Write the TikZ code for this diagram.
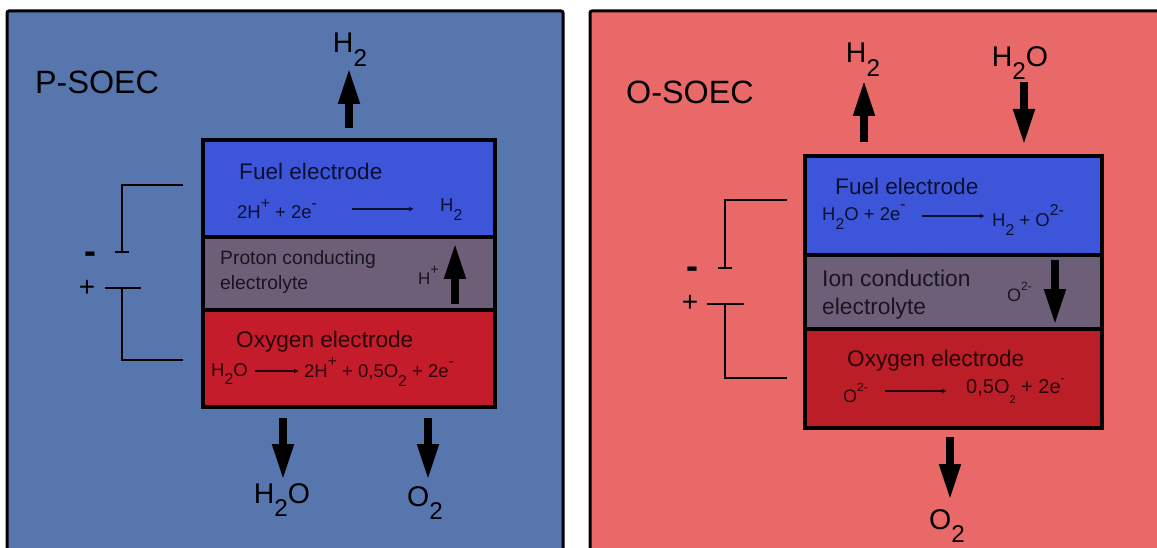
\documentclass[tikz,border=0pt]{standalone}
\usepackage{fontspec}
\setmainfont{Liberation Sans}
\usepackage{xcolor}
\definecolor{pblue}{HTML}{5776AD}
\definecolor{osalmon}{HTML}{E86967}
\definecolor{fuelblue}{HTML}{3D55D8}
\definecolor{greymauve}{HTML}{6E5F78}
\definecolor{pred}{HTML}{C41C2B}
\definecolor{ored}{HTML}{BC1E28}
\definecolor{inkblue}{HTML}{0A1030}
\definecolor{inkred}{HTML}{2A0408}
\definecolor{inkgrey}{HTML}{181520}
\usetikzlibrary{arrows.meta, positioning}
\newcommand{\fsz}[1]{\fontsize{#1}{#1}\selectfont}
\newcommand{\lo}[1]{\raisebox{-0.48em}{\fontsize{0.85em}{1em}\selectfont #1}}
\newcommand{\hi}[1]{\raisebox{0.58em}{\fontsize{0.85em}{1em}\selectfont #1}}

\begin{document}
\begin{tikzpicture}[
    x=1pt, y=-1pt,
    panelbox/.style={draw=black, line width=3pt, rounded corners=2pt},
    celllayer/.style={draw=black, line width=4pt, minimum width=292pt, inner sep=0pt},
    flowarrow/.style={line width=7.5pt, -{Triangle[width=20pt,length=36pt]}},
    reactarrow/.style={line width=1.2pt, -{Latex[length=5pt,width=5pt]}},
    wireline/.style={line width=2pt},
    paneltitle/.style={inner sep=0pt, anchor=west, font=\fsz{32.3pt}},
    gaslabel/.style={inner sep=0pt, font=\fsz{28.5pt}},
    cellname/.style={inner sep=0pt, anchor=west, font=\fsz{22.6pt}},
    eqnlabel/.style={inner sep=0pt, anchor=west, font=\fsz{18.5pt}}
  ]
  \clip (0,0) rectangle (1157,548);

  % P-SOEC (left)
  \draw[panelbox, fill=pblue] (7,11) rectangle (563,556);
  \node[paneltitle] (ptitle) at (35,82) {P-SOEC};
  \node[celllayer, fill=fuelblue, minimum height=97pt] (pfuel) at (349,188.5) {};
  \node[celllayer, fill=greymauve, minimum height=73pt] (pion) at (349,273.5) {};
  \node[celllayer, fill=pred, minimum height=97pt] (pox) at (349,358.5) {};

  \node[cellname, text=inkblue] (pfuelname) at (239,171) {Fuel electrode};
  \node[eqnlabel, text=inkblue] (pfuelleft) at (237,209) {2H\hi{+} + 2e\hi{-}};
  \node[eqnlabel, text=inkblue] (pfuelright) at (440,210) {H\lo{2}};
  \coordinate (pfuelstart) at (352,209);
  \coordinate (pfuelend) at (414,209);
  \draw[reactarrow, inkblue] (pfuelstart) -- (pfuelend);

  \node[eqnlabel, font=\fsz{19.3pt}, text=inkgrey, align=left] (pionname) at (220,272) {Proton conducting\\[5pt]electrolyte};
  \node[eqnlabel, text=inkgrey, font=\fsz{17pt}] (phplus) at (418,275) {H\hi{+}};
  \coordinate (phstart) at (455,304);
  \coordinate (phend) at (455,243);
  \draw[flowarrow] (phstart) -- (phend);

  \node[cellname, text=inkred] (poxname) at (236,342) {Oxygen electrode};
  \node[eqnlabel, text=inkred] (poxleft) at (211,374) {H\lo{2}O};
  \node[eqnlabel, text=inkred] (poxright) at (304,372) {2H\hi{+} + 0,5O\lo{2} + 2e\hi{-}};
  \coordinate (poxstart) at (255,371);
  \coordinate (poxend) at (299,371);
  \draw[reactarrow, inkred] (poxstart) -- (poxend);

  % outlet and inlet arrows
  \node[gaslabel] (ph2) at (350,50) {H\lo{2}};
  \coordinate (ph2start) at (349,128);
  \coordinate (ph2end) at (349,68);
  \draw[flowarrow] (ph2start) -- (ph2end);
  \node[gaslabel] (pwater) at (282,500) {H\lo{2}O};
  \node[gaslabel] (poxygen) at (425,503) {O\lo{2}};
  \coordinate (pwaterstart) at (283,418);
  \coordinate (pwaterend) at (283,480);
  \coordinate (poxygenstart) at (428,418);
  \coordinate (poxygenend) at (428,480);
  \draw[flowarrow] (pwaterstart) -- (pwaterend);
  \draw[flowarrow] (poxygenstart) -- (poxygenend);

  % battery
  \coordinate (pminus) at (122,252);
  \coordinate (pplus) at (122,288);
  \draw[wireline] (183,185) -- (122,185) -- (pminus);
  \draw[wireline] (115,252) -- (129,252);
  \draw[wireline] (105,288) -- (141,288);
  \draw[wireline] (pplus) -- (122,360) -- (183,360);
  \node[inner sep=0pt, font=\bfseries\fsz{36pt}] (pminussign) at (90,258) {-};
  \node[inner sep=0pt, font=\fsz{28pt}] (pplussign) at (87,288) {+};

  % O-SOEC (right)
  \draw[panelbox, fill=osalmon] (590,11) rectangle (1170,556);
  \node[paneltitle] (otitle) at (626,92) {O-SOEC};
  \node[celllayer, fill=fuelblue, minimum width=297pt, minimum height=99pt] (ofuel) at (953.5,205.5) {};
  \node[celllayer, fill=greymauve, minimum width=297pt, minimum height=74pt] (oion) at (953.5,292) {};
  \node[celllayer, fill=ored, minimum width=297pt, minimum height=99pt] (oox) at (953.5,378.5) {};

  \node[cellname, text=inkblue] (ofuelname) at (835,186) {Fuel electrode};
  \node[eqnlabel, text=inkblue] (ofuelleft) at (822,217) {H\lo{2}O + 2e\hi{-}};
  \node[eqnlabel, text=inkblue] (ofuelright) at (992,220) {H\lo{2} + O\hi{2-}};
  \coordinate (ofuelstart) at (922,216);
  \coordinate (ofuelend) at (985,216);
  \draw[reactarrow, inkblue] (ofuelstart) -- (ofuelend);

  \node[eqnlabel, font=\fsz{22.8pt}, text=inkgrey, align=left] (oionname) at (822,295) {Ion conduction\\[5pt]electrolyte};
  \node[eqnlabel, text=inkgrey, font=\fsz{18pt}] (oo2) at (1007,292) {O\hi{\fsz{12pt}2-}};
  \coordinate (oostart) at (1055,260);
  \coordinate (ooend) at (1055,325);
  \draw[flowarrow] (oostart) -- (ooend);

  \node[cellname, text=inkred] (ooxname) at (847,361) {Oxygen electrode};
  \node[eqnlabel, text=inkred, font=\fsz{18pt}] (ooxleft) at (843,393) {O\hi{\fsz{12pt}2-}};
  \node[eqnlabel, text=inkred, font=\fsz{20pt}] (ooxright) at (966,391) {0,5O\lo{\fsz{11pt}2} + 2e\hi{\fsz{12pt}-}};
  \coordinate (ooxstart) at (885,391);
  \coordinate (ooxend) at (947,391);
  \draw[reactarrow, inkred] (ooxstart) -- (ooxend);

  % outlet and inlet arrows
  \node[gaslabel] (oh2) at (863,60) {H\lo{2}};
  \node[gaslabel] (owater) at (1020,63) {H\lo{2}O};
  \coordinate (oh2start) at (864,142);
  \coordinate (oh2end) at (864,80);
  \coordinate (owaterstart) at (1024,82);
  \coordinate (owaterend) at (1024,145);
  \draw[flowarrow] (oh2start) -- (oh2end);
  \draw[flowarrow] (owaterstart) -- (owaterend);
  \node[gaslabel] (ooxygen) at (947,526) {O\lo{2}};
  \coordinate (ooxygenstart) at (950,437);
  \coordinate (ooxygenend) at (950,500);
  \draw[flowarrow] (ooxygenstart) -- (ooxygenend);

  % battery
  \coordinate (ominus) at (725,268);
  \coordinate (oplus) at (725,304);
  \draw[wireline] (787,200) -- (725,200) -- (ominus);
  \draw[wireline] (718,268) -- (732,268);
  \draw[wireline] (707,304) -- (744,304);
  \draw[wireline] (oplus) -- (725,378) -- (787,378);
  \node[inner sep=0pt, font=\bfseries\fsz{36pt}] (ominussign) at (692,273) {-};
  \node[inner sep=0pt, font=\fsz{28pt}] (oplussign) at (690,303) {+};
\end{tikzpicture}
\end{document}
